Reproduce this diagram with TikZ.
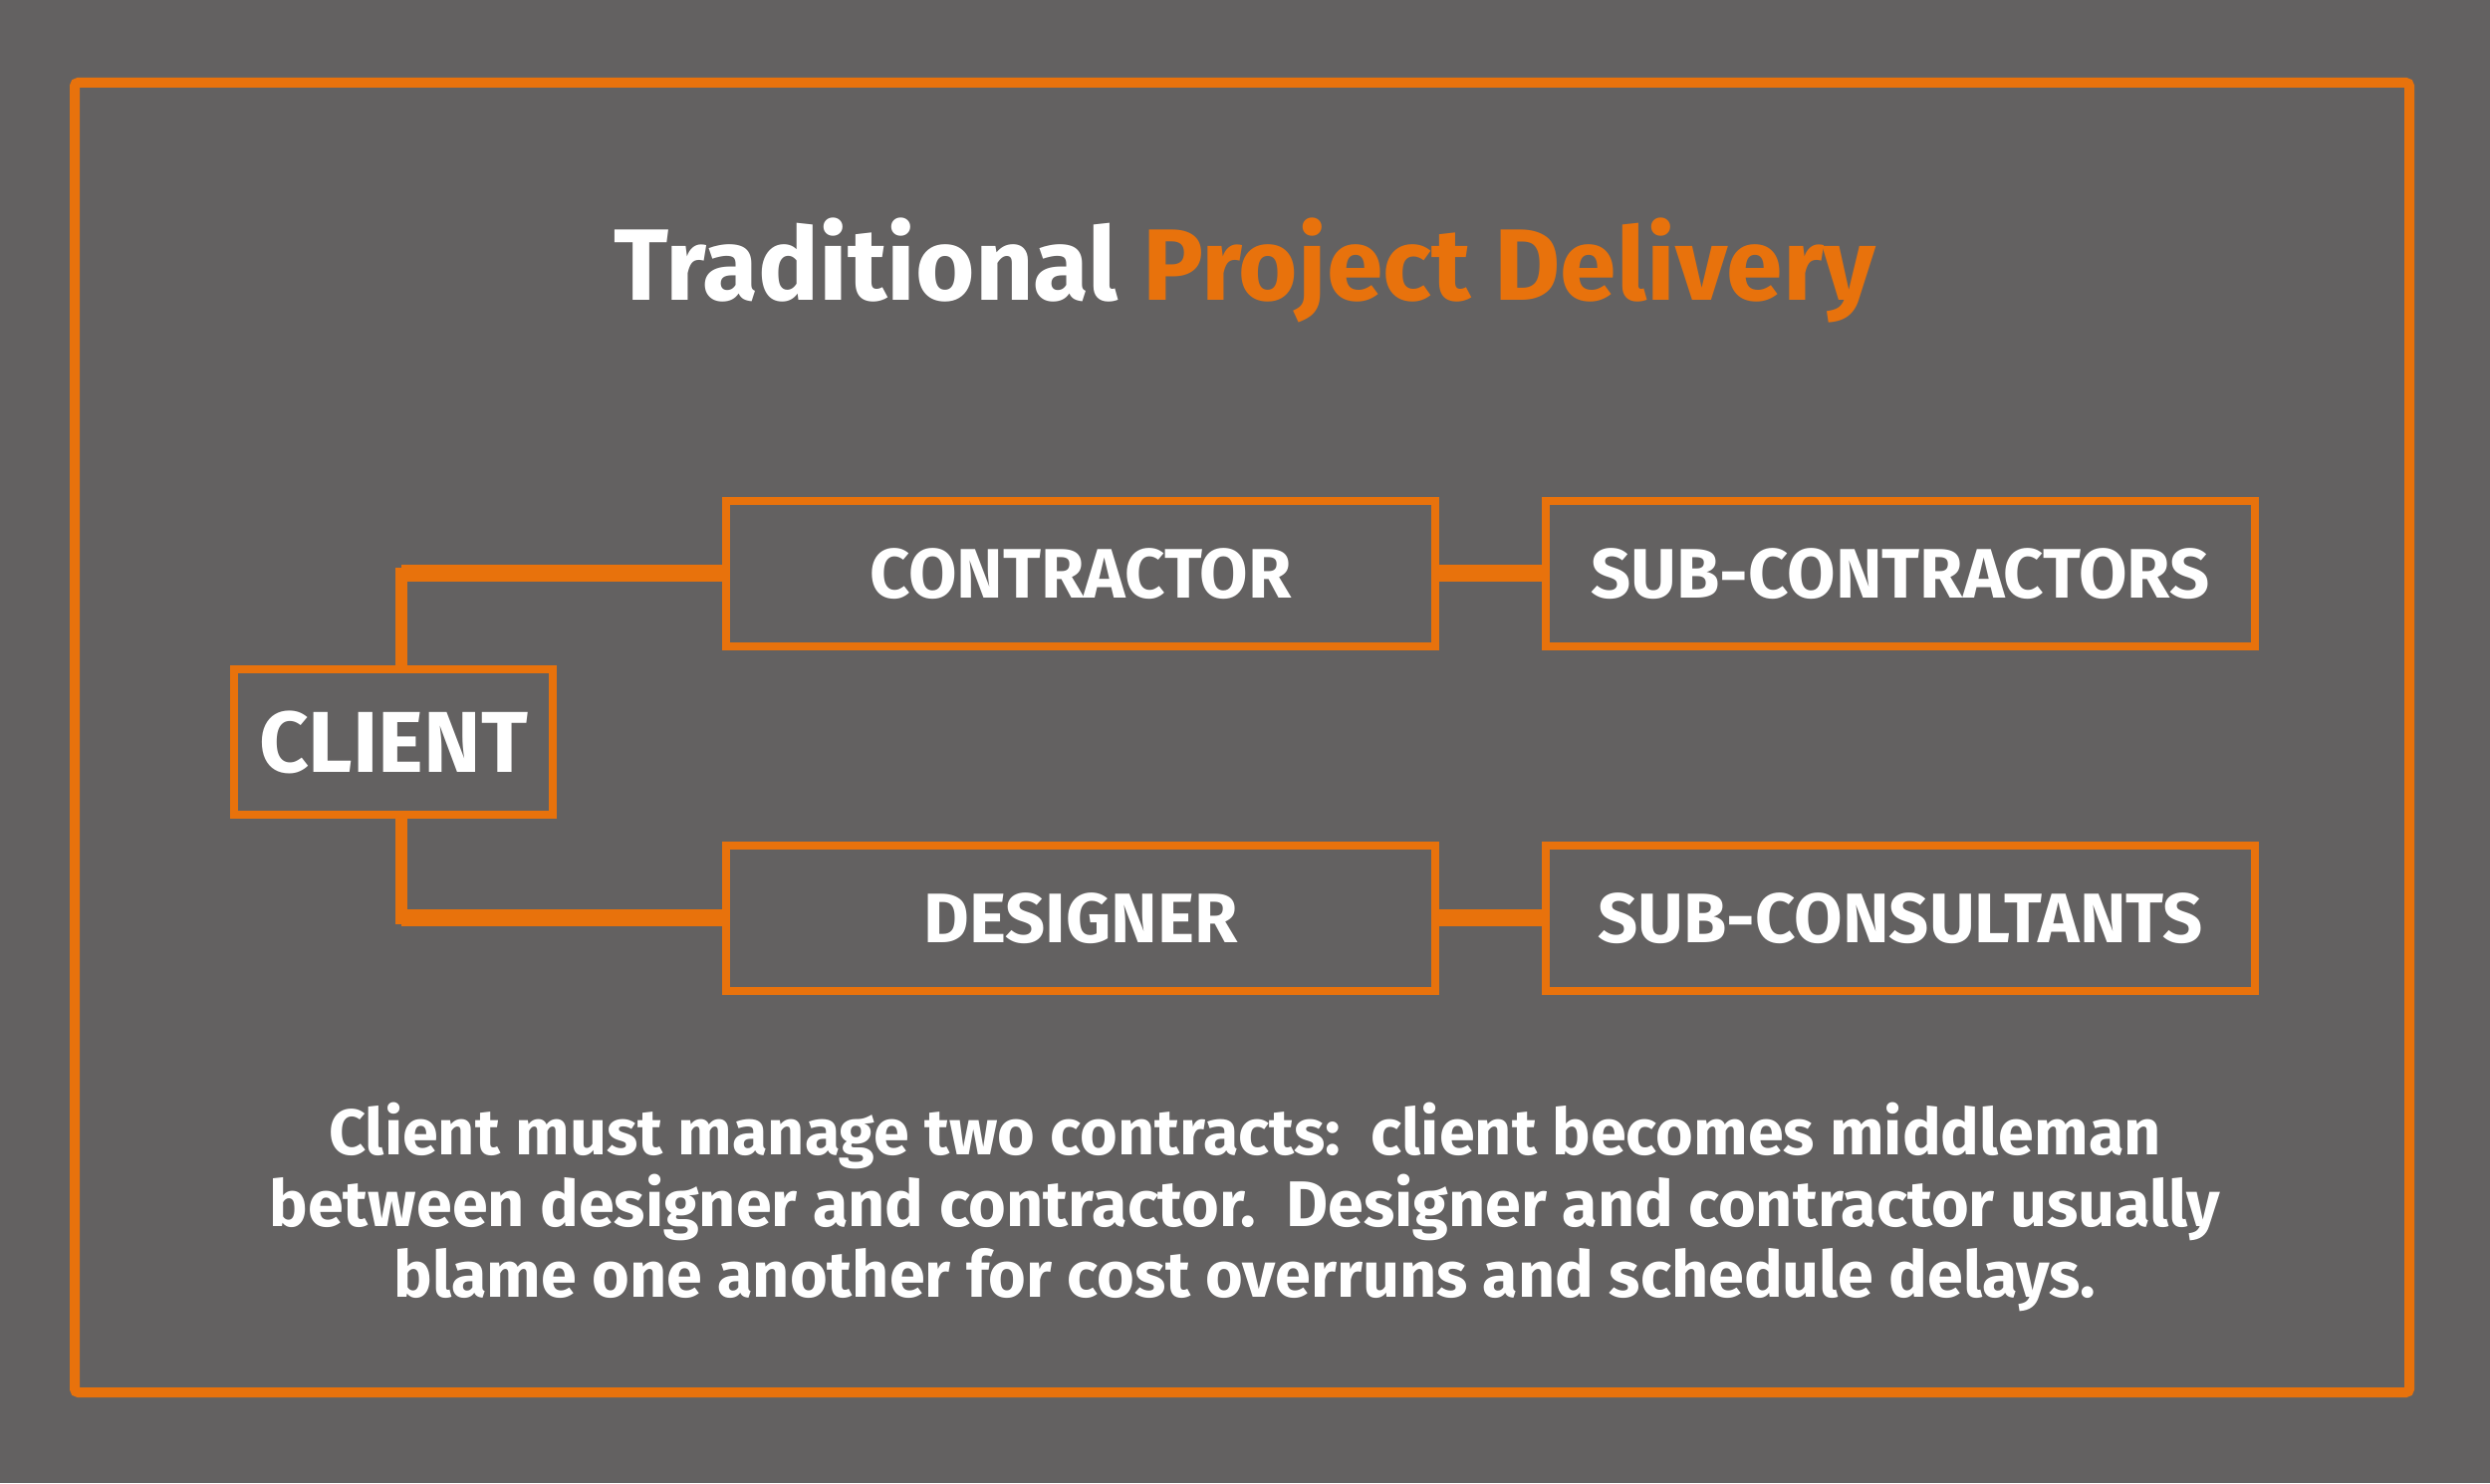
\documentclass[tikz,border=0pt]{standalone}
\usepackage{fontspec}
\setmainfont{Fira Sans}
\usetikzlibrary{positioning, calc}
\definecolor{slate}{HTML}{636161}
\definecolor{flame}{HTML}{E8720C}
\tikzset{
  party/.style={
    rectangle, draw=flame, line width=0.08cm,
    minimum width=7.12cm, minimum height=1.46cm,
    inner sep=0pt, text=white,
    font=\bfseries\fontsize{20}{23}\selectfont,
  },
  owner/.style={
    party, minimum width=3.2cm, minimum height=1.46cm,
    font=\bfseries\fontsize{24.7}{28}\selectfont,
  },
  link/.style={draw=flame, line width=0.17cm},
  riser/.style={draw=flame, line width=0.12cm, line cap=rect},
  caption/.style={text=white, align=center, font=\bfseries\fontsize{18.4}{20.3}\selectfont},
}

\begin{document}
\begin{tikzpicture}

  % background and frame
  \fill[slate] (0,0) rectangle (25,14.89);
  \useasboundingbox (0,0) rectangle (25,14.89);
  \draw[flame, line width=0.1cm, rounded corners=1pt] (0.75,0.91) rectangle (24.19,14.06);

  \node[font=\bfseries\fontsize{29}{33}\selectfont, text=white] (title) at (12.5,12.18)
    {Traditional \textcolor{flame}{Project Delivery}};

  \node[owner] (client) at (3.95,7.44) {CLIENT};
  \node[party] (contractor) at (10.85,9.13) {CONTRACTOR};
  \node[party, right=1.03cm of contractor] (subcontr) {SUB-CONTRACTORS};
  \node[party, below=1.92cm of contractor] (designer) {DESIGNER};
  \node[party, right=1.03cm of designer] (subcons) {SUB-CONSULTANTS};

  \coordinate (cup) at ($(client.north)+(0.08,0)$);
  \coordinate (cdown) at ($(client.south)+(0.08,0)$);
  \coordinate (ctop) at (cup |- contractor.west);
  \coordinate (cbot) at (cdown |- designer.west);
  \draw[riser] (cup) -- (ctop);
  \draw[riser] (cdown) -- (cbot);
  \draw[link] (ctop) -- (contractor.west);
  \draw[link] (cbot) -- (designer.west);
  \draw[link] (contractor) -- (subcontr);
  \draw[link] (designer) -- (subcons);

  \node[caption] (note) at (12.5,2.77)
    {Client must manage two contracts:\ \ client becomes middleman\\
     between designer and contractor.\ \ Designer and contractor usually\\
     blame one another for cost overruns and schedule delays.};

\end{tikzpicture}
\end{document}
